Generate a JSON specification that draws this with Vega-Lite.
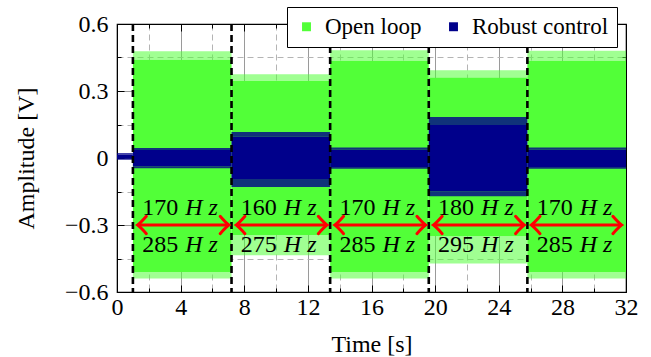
{
  "$schema": "https://vega.github.io/schema/vega-lite/v6.json",
  "width": 509,
  "height": 268,
  "autosize": {"type": "none"},
  "padding": {"left": 117, "top": 24, "right": 25, "bottom": 65},
  "background": "white",
  "config": {
    "font": "Times New Roman",
    "view": {"stroke": "black", "strokeWidth": 1.2},
    "axis": {
      "labelFont": "Times New Roman",
      "labelFontSize": 24,
      "labelColor": "black",
      "titleFont": "Times New Roman",
      "titleFontSize": 24,
      "titleFontWeight": "normal",
      "titleColor": "black",
      "domainColor": "black",
      "tickColor": "black",
      "labelFlush": false,
      "labelOverlap": false
    },
    "legend": {
      "orient": "none",
      "legendX": 170,
      "legendY": -17,
      "direction": "horizontal",
      "symbolType": "square",
      "symbolSize": 80,
      "symbolOpacity": 1,
      "symbolStrokeWidth": 0,
      "labelFont": "Times New Roman",
      "labelFontSize": 23,
      "labelColor": "black",
      "labelOffset": 7,
      "columnPadding": 20,
      "strokeColor": "black",
      "fillColor": "white",
      "padding": 8,
      "cornerRadius": 0
    }
  },
  "datasets": {
    "signal": [
      {"series": "Open loop", "t0": 1, "t1": 7.2, "lo": -0.51, "hi": 0.44, "lo_s": -0.54, "hi_s": 0.478},
      {"series": "Open loop", "t0": 7.2, "t1": 13.4, "lo": -0.345, "hi": 0.345, "lo_s": -0.435, "hi_s": 0.375},
      {"series": "Open loop", "t0": 13.4, "t1": 19.6, "lo": -0.51, "hi": 0.435, "lo_s": -0.54, "hi_s": 0.482},
      {"series": "Open loop", "t0": 19.6, "t1": 25.8, "lo": -0.35, "hi": 0.36, "lo_s": -0.472, "hi_s": 0.393},
      {"series": "Open loop", "t0": 25.8, "t1": 32, "lo": -0.51, "hi": 0.435, "lo_s": -0.54, "hi_s": 0.48},
      {"series": "Robust control", "t0": 0, "t1": 1, "lo": -0.004, "hi": 0.016, "lo_s": -0.008, "hi_s": 0.022},
      {"series": "Robust control", "t0": 1, "t1": 7.2, "lo": -0.038, "hi": 0.036, "lo_s": -0.046, "hi_s": 0.045},
      {"series": "Robust control", "t0": 7.2, "t1": 13.4, "lo": -0.097, "hi": 0.095, "lo_s": -0.13, "hi_s": 0.116},
      {"series": "Robust control", "t0": 13.4, "t1": 19.6, "lo": -0.04, "hi": 0.038, "lo_s": -0.048, "hi_s": 0.047},
      {"series": "Robust control", "t0": 19.6, "t1": 25.8, "lo": -0.15, "hi": 0.148, "lo_s": -0.171, "hi_s": 0.184},
      {"series": "Robust control", "t0": 25.8, "t1": 32, "lo": -0.04, "hi": 0.038, "lo_s": -0.048, "hi_s": 0.047}
    ],
    "segs": [
      {"t0": 1, "t1": 7.2, "a0": 1.3, "a1": 7.03, "tm": 4.1, "low": "170", "high": "285"},
      {"t0": 7.2, "t1": 13.4, "a0": 7.5, "a1": 13.2, "tm": 10.3, "low": "160", "high": "275"},
      {"t0": 13.4, "t1": 19.6, "a0": 13.7, "a1": 19.4, "tm": 16.5, "low": "170", "high": "285"},
      {"t0": 19.6, "t1": 25.8, "a0": 19.9, "a1": 25.6, "tm": 22.7, "low": "180", "high": "295"},
      {"t0": 25.8, "t1": 32, "a0": 26.05, "a1": 31.72, "tm": 28.9, "low": "170", "high": "285"}
    ]
  },
  "resolve": {"axis": {"x": "independent", "y": "independent"}},
  "layer": [
    {
      "data": {"name": "signal"},
      "mark": {"type": "rect"},
      "encoding": {
        "x": {
          "field": "t0", "type": "quantitative",
          "scale": {"domain": [0, 32], "nice": false, "zero": false},
          "axis": {
            "orient": "bottom",
            "title": "Time [s]",
            "values": [0, 2, 4, 6, 8, 10, 12, 14, 16, 18, 20, 22, 24, 26, 28, 30, 32],
            "labelExpr": "datum.value % 4 === 0 ? datum.label : ''",
            "format": "d",
            "grid": true,
            "gridColor": {"condition": {"test": "datum.value % 4 === 0", "value": "#9a9a9a"}, "value": "#b4b4b4"},
            "gridDash": {"condition": {"test": "datum.value % 4 === 0", "value": []}, "value": [6, 4]},
            "gridWidth": 1,
            "tickSize": {"condition": {"test": "datum.value % 4 === 0", "value": -7}, "value": -4},
            "labelPadding": 10,
            "titlePadding": 10
          }
        },
        "x2": {"field": "t1"},
        "y": {
          "field": "lo", "type": "quantitative",
          "scale": {"domain": [-0.6, 0.6], "nice": false, "zero": false},
          "axis": {
            "orient": "left",
            "title": "Amplitude [V]",
            "values": [-0.6, -0.45, -0.3, -0.15, 0, 0.15, 0.3, 0.45, 0.6],
            "labelExpr": "abs(datum.value/0.3 - round(datum.value/0.3)) < 0.01 ? format(datum.value, '.1~f') : ''",
            "grid": true,
            "gridColor": {"condition": {"test": "abs(datum.value/0.3 - round(datum.value/0.3)) < 0.01", "value": "#9a9a9a"}, "value": "#b4b4b4"},
            "gridDash": {"condition": {"test": "abs(datum.value/0.3 - round(datum.value/0.3)) < 0.01", "value": []}, "value": [6, 4]},
            "gridWidth": 1,
            "tickSize": {"condition": {"test": "abs(datum.value/0.3 - round(datum.value/0.3)) < 0.01", "value": -7}, "value": -4},
            "labelPadding": 16,
            "titlePadding": 26
          }
        },
        "y2": {"field": "hi"},
        "color": {
          "field": "series", "type": "nominal",
          "scale": {"domain": ["Open loop", "Robust control"], "range": ["#52ff38", "#00008b"]},
          "legend": {"title": null}
        }
      }
    },
    {
      "data": {"name": "signal"},
      "transform": [{"filter": "datum.series === 'Open loop'"}],
      "mark": {"type": "rect", "opacity": 0.55},
      "encoding": {
        "x": {
          "field": "t0", "type": "quantitative",
          "axis": {
            "orient": "top", "title": null, "labels": false, "grid": false,
            "values": [0, 2, 4, 6, 8, 10, 12, 14, 16, 18, 20, 22, 24, 26, 28, 30, 32],
            "tickSize": {"condition": {"test": "datum.value % 4 === 0", "value": -7}, "value": -4}
          }
        },
        "x2": {"field": "t1"},
        "y": {
          "field": "hi", "type": "quantitative",
          "axis": {
            "orient": "right", "title": null, "labels": false, "grid": false,
            "values": [-0.6, -0.45, -0.3, -0.15, 0, 0.15, 0.3, 0.45, 0.6],
            "tickSize": {"condition": {"test": "abs(datum.value/0.3 - round(datum.value/0.3)) < 0.01", "value": -7}, "value": -4}
          }
        },
        "y2": {"field": "hi_s"},
        "color": {"field": "series", "type": "nominal"}
      }
    },
    {
      "data": {"name": "signal"},
      "transform": [{"filter": "datum.series === 'Open loop'"}],
      "mark": {"type": "rect", "opacity": 0.55},
      "encoding": {
        "x": {"field": "t0", "type": "quantitative", "axis": null},
        "x2": {"field": "t1"},
        "y": {"field": "lo_s", "type": "quantitative", "axis": null},
        "y2": {"field": "lo"},
        "color": {"field": "series", "type": "nominal"}
      }
    },
    {
      "data": {"name": "signal"},
      "transform": [{"filter": "datum.series === 'Robust control'"}],
      "mark": {"type": "rect", "opacity": 0.8},
      "encoding": {
        "x": {"field": "t0", "type": "quantitative", "axis": null},
        "x2": {"field": "t1"},
        "y": {"field": "hi", "type": "quantitative", "axis": null},
        "y2": {"field": "hi_s"},
        "color": {"field": "series", "type": "nominal"}
      }
    },
    {
      "data": {"name": "signal"},
      "transform": [{"filter": "datum.series === 'Robust control'"}],
      "mark": {"type": "rect", "opacity": 0.8},
      "encoding": {
        "x": {"field": "t0", "type": "quantitative", "axis": null},
        "x2": {"field": "t1"},
        "y": {"field": "lo_s", "type": "quantitative", "axis": null},
        "y2": {"field": "lo"},
        "color": {"field": "series", "type": "nominal"}
      }
    },
    {
      "data": {"name": "segs"},
      "mark": {"type": "rule", "color": "black", "strokeWidth": 2.6, "strokeDash": [7, 4]},
      "encoding": {
        "x": {"field": "t0", "type": "quantitative", "axis": null}
      }
    },
    {
      "data": {"name": "segs"},
      "mark": {"type": "rule", "color": "#ff0000", "strokeWidth": 3},
      "encoding": {
        "x": {"field": "a0", "type": "quantitative", "axis": null},
        "x2": {"field": "a1"},
        "y": {"datum": -0.3, "type": "quantitative", "axis": null}
      }
    },
    {
      "data": {"name": "segs"},
      "mark": {"type": "point", "shape": "M -1 -1 Q -0.3 -0.2 0 0 Q -0.3 0.2 -1 1", "size": 300, "filled": false, "color": "#ff0000", "strokeWidth": 3, "opacity": 1, "strokeCap": "round"},
      "encoding": {
        "x": {"field": "a1", "type": "quantitative", "axis": null},
        "y": {"datum": -0.3, "type": "quantitative", "axis": null}
      }
    },
    {
      "data": {"name": "segs"},
      "mark": {"type": "point", "shape": "M 1 -1 Q 0.3 -0.2 0 0 Q 0.3 0.2 1 1", "size": 300, "filled": false, "color": "#ff0000", "strokeWidth": 3, "opacity": 1, "strokeCap": "round"},
      "encoding": {
        "x": {"field": "a0", "type": "quantitative", "axis": null},
        "y": {"datum": -0.3, "type": "quantitative", "axis": null}
      }
    },
    {
      "data": {"name": "segs"},
      "mark": {"type": "text", "align": "right", "baseline": "alphabetic", "dx": -4, "fontSize": 24, "font": "Times New Roman", "color": "black"},
      "encoding": {
        "x": {"field": "tm", "type": "quantitative", "axis": null},
        "y": {"datum": -0.256, "type": "quantitative", "axis": null},
        "text": {"field": "low"}
      }
    },
    {
      "data": {"name": "segs"},
      "mark": {"type": "text", "align": "left", "baseline": "alphabetic", "dx": 3, "fontSize": 24, "font": "Times New Roman", "fontStyle": "italic", "color": "black", "text": "H z"},
      "encoding": {
        "x": {"field": "tm", "type": "quantitative", "axis": null},
        "y": {"datum": -0.256, "type": "quantitative", "axis": null}
      }
    },
    {
      "data": {"name": "segs"},
      "mark": {"type": "text", "align": "right", "baseline": "alphabetic", "dx": -4, "fontSize": 24, "font": "Times New Roman", "color": "black"},
      "encoding": {
        "x": {"field": "tm", "type": "quantitative", "axis": null},
        "y": {"datum": -0.422, "type": "quantitative", "axis": null},
        "text": {"field": "high"}
      }
    },
    {
      "data": {"name": "segs"},
      "mark": {"type": "text", "align": "left", "baseline": "alphabetic", "dx": 3, "fontSize": 24, "font": "Times New Roman", "fontStyle": "italic", "color": "black", "text": "H z"},
      "encoding": {
        "x": {"field": "tm", "type": "quantitative", "axis": null},
        "y": {"datum": -0.422, "type": "quantitative", "axis": null}
      }
    }
  ]
}
